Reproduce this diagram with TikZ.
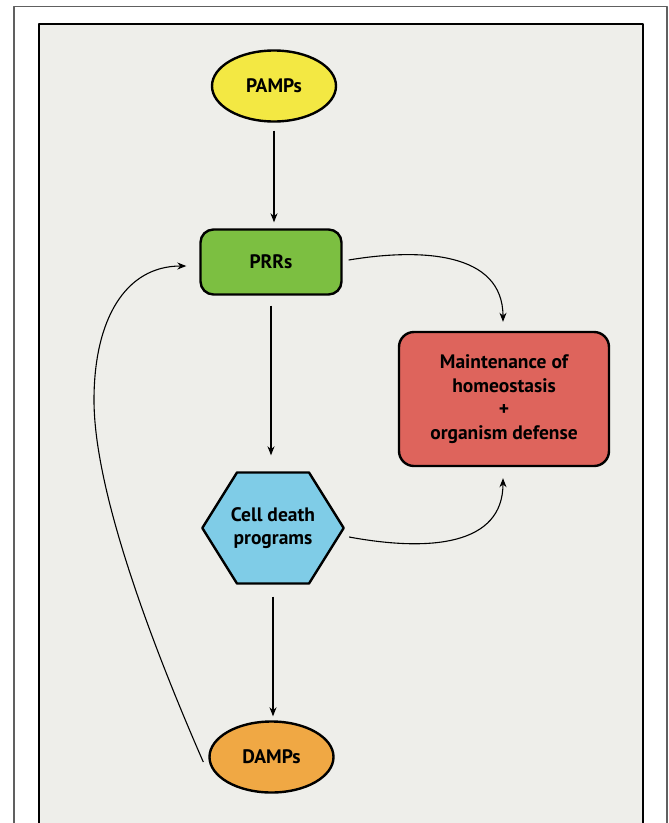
\documentclass[tikz,border=0pt]{standalone}
\usepackage{fontspec}
\setmainfont{PT Sans}
\usetikzlibrary{arrows.meta,shapes.geometric,shapes.symbols}
\definecolor{panel}{HTML}{EEEEEA}
\definecolor{pampcol}{HTML}{F3E843}
\definecolor{prrcol}{HTML}{7CBF41}
\definecolor{homecol}{HTML}{DE645C}
\definecolor{cellcol}{HTML}{7FCCE7}
\definecolor{dampcol}{HTML}{F0A844}
\begin{document}
\begin{tikzpicture}[x=1pt,y=-1pt,font=\bfseries\fontsize{19.5}{23.5}\selectfont, line join=round, >={Stealth[length=9pt,width=7pt]}]
\tikzset{box/.style={draw=black,line width=2.4pt,align=center,inner sep=0pt},
oval/.style={box,ellipse,minimum width=124pt,minimum height=71pt},
conn/.style={->,line width=1.1pt}}
\useasboundingbox (0,0) rectangle (669,823);
% frame and panel
\draw[gray!75!black,line width=1.4pt](14,6.5) rectangle (667,840);
\draw[fill=panel,line width=2.6pt](39,24) rectangle (643,840);
% nodes
\node[oval,fill=pampcol] (pamps) at (274,86) {PAMPs};
\node[box,fill=prrcol,rounded corners=13pt,minimum width=141pt,minimum height=65pt] (prrs) at (271,262) {PRRs};
\node[box,fill=homecol,rounded corners=15pt,minimum width=210pt,minimum height=134pt] (home) at (504,399) {Maintenance of\\homeostasis\\+\\organism defense};
\node[box,fill=cellcol,signal,signal to=east and west,signal pointer angle=116,inner xsep=-6pt,minimum width=141pt,minimum height=111pt] (cell) at (273,528) {Cell death\\programs};
\node[oval,fill=dampcol] (damps) at (271.5,757) {DAMPs};
\coordinate (bend) at (94,400);
% arrows
\draw[conn,shorten <=8pt,shorten >=6pt] (pamps.south) -- (pamps.south |- prrs.north);
\draw[conn,shorten <=10pt,shorten >=16pt] (prrs.south) -- (prrs.south |- cell.north);
\draw[conn,shorten <=12pt,shorten >=4pt] (cell.south) -- (cell.south |- damps.north);
\draw[conn] ([shift={(6,-2)}]prrs.east) .. controls +(72,-12) and +(0,-70) .. ([shift={(-1,-9)}]home.north);
\draw[conn] ([shift={(4,9)}]cell.east) .. controls +(81,15) and +(0,67) .. ([shift={(-1,11)}]home.south);
\draw[conn] ([shift={(-5,5)}]damps.west) .. controls (150,640) and (94,490) .. (bend) .. controls (94,320) and (125,266) .. ([shift={(-13,4)}]prrs.west);
\end{tikzpicture}
\end{document}
